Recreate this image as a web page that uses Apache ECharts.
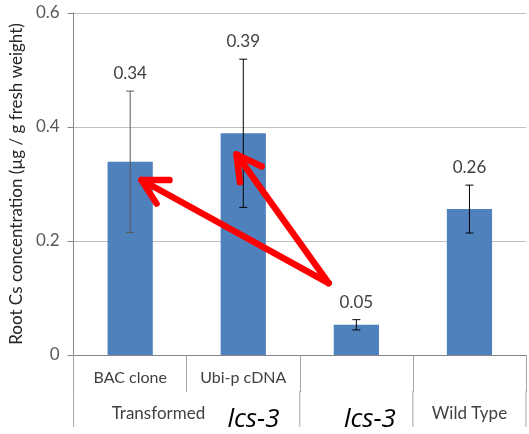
<!DOCTYPE html>
<html><head><meta charset="utf-8">
<script src="https://cdn.jsdelivr.net/npm/echarts@6/dist/echarts.min.js"></script>
<style>html,body{margin:0;padding:0;background:#fff}#c{width:529px;height:434px}</style>
</head><body><div id="c"></div>
<script>
// ---- data ----
const subCategories = ['BAC clone', 'Ubi-p cDNA', '', ''];
const values = [0.339, 0.389, 0.053, 0.256];
const errors = [0.124, 0.130, 0.009, 0.042];
const dataLabels = ['0.34', '0.39', '0.05', '0.26'];
const groupLabels = [{text: 'Transformed', at: 0.25}, {text: 'Wild Type', at: 3}];
const lineLabels = [{text: 'lcs-3', at: 1.09}, {text: 'lcs-3', at: 2.12}];
const yMin = 0, yMax = 0.6, yInterval = 0.2;
const yName = 'Root Cs concentration (\u00b5g / g fresh weight)';
// arrows: [fromIndex, fromValue, toIndex, toValue]
const arrows = [[1.755, 0.126, 0.10, 0.307], [1.755, 0.126, 0.94, 0.352]];

const FONT = 'Lato';
const chart = echarts.init(document.getElementById('c'));
const errData = values.map((v, i) => [i, v + errors[i], v - errors[i], v]);

chart.setOption({
  animation: false,
  grid: {left: 72, right: 3, top: 13, bottom: 79},
  xAxis: {
    type: 'category', data: subCategories,
    axisLine: {lineStyle: {color: '#868686'}},
    axisTick: {show: true, length: 37, lineStyle: {color: '#a6a6a6'}},
    axisLabel: {margin: 15, fontFamily: FONT, fontSize: 16, color: '#404040'}
  },
  yAxis: {
    type: 'value', min: yMin, max: yMax, interval: yInterval,
    name: yName, nameLocation: 'middle', nameGap: 47, nameRotate: 90,
    nameTextStyle: {fontFamily: FONT, fontSize: 17, color: '#262626'},
    axisLine: {show: true, lineStyle: {color: '#868686'}},
    axisTick: {show: true, length: 6, lineStyle: {color: '#868686'}},
    axisLabel: {margin: 14, fontFamily: FONT, fontSize: 17, color: '#595959'},
    splitLine: {lineStyle: {color: '#bfbfbf'}}
  },
  series: [
    {type: 'bar', data: values, barWidth: '40%', itemStyle: {color: '#4f81bd'}},
    {
      type: 'custom', data: errData, z: 5,
      renderItem: function (params, api) {
        const i = api.value(0);
        const hi = api.coord([i, api.value(1)]);
        const lo = api.coord([i, api.value(2)]);
        const w = 4;
        const st = {stroke: params.dataIndex === 0 ? '#5a5a5a' : '#000', lineWidth: 1};
        return {type: 'group', children: [
          {type: 'line', shape: {x1: hi[0], y1: hi[1], x2: lo[0], y2: lo[1]}, style: st},
          {type: 'line', shape: {x1: hi[0] - w, y1: hi[1], x2: hi[0] + w, y2: hi[1]}, style: st},
          {type: 'line', shape: {x1: lo[0] - w, y1: lo[1], x2: lo[0] + w, y2: lo[1]}, style: st},
          {type: 'text', style: {text: dataLabels[params.dataIndex], x: hi[0], y: hi[1] - 9,
            textAlign: 'center', textVerticalAlign: 'bottom', fontFamily: FONT, fontSize: 17, fill: '#404040'}}
        ]};
      }
    }
  ]
});

function px(idx, val) {
  const a = chart.convertToPixel({xAxisIndex: 0, yAxisIndex: 0}, [0, val]);
  const b = chart.convertToPixel({xAxisIndex: 0, yAxisIndex: 0}, [1, val]);
  return [a[0] + (b[0] - a[0]) * idx, a[1]];
}
const gfx = [];
// long divider lines in category area
[-0.5, 1.5, 2.5, 3.5].forEach(function (k) {
  const p = px(k, 0);
  gfx.push({type: 'line', shape: {x1: p[0], y1: p[1] + 36, x2: p[0], y2: p[1] + 72}, style: {stroke: '#a6a6a6', lineWidth: 1}});
});
groupLabels.forEach(function (g) {
  const p = px(g.at, 0);
  gfx.push({type: 'text', style: {text: g.text, x: p[0], y: p[1] + 59, textAlign: 'center', textVerticalAlign: 'middle',
    fontFamily: FONT, fontSize: 17, fill: '#404040'}});
});
lineLabels.forEach(function (g) {
  const p = px(g.at, 0);
  gfx.push({type: 'text', z: 10, style: {text: g.text, x: p[0], y: p[1] + 65, textAlign: 'center', textVerticalAlign: 'middle',
    fontFamily: 'Open Sans', fontStyle: 'italic', fontSize: 26, fill: '#000'}});
});
arrows.forEach(function (a) {
  const s = px(a[0], a[1]);
  const t = px(a[2], a[3]);
  const ang = Math.atan2(t[1] - s[1], t[0] - s[0]);
  const L = 28, spread = 0.5;
  const w1 = [t[0] - L * Math.cos(ang - spread), t[1] - L * Math.sin(ang - spread)];
  const w2 = [t[0] - L * Math.cos(ang + spread), t[1] - L * Math.sin(ang + spread)];
  const st = {stroke: '#ff0000', lineWidth: 6.5, lineCap: 'round', lineJoin: 'round', fill: null};
  gfx.push({type: 'polyline', z: 20, shape: {points: [s, t]}, style: st});
  gfx.push({type: 'polyline', z: 20, shape: {points: [w1, t, w2]}, style: st});
});
chart.setOption({graphic: gfx});
</script>
</body></html>
